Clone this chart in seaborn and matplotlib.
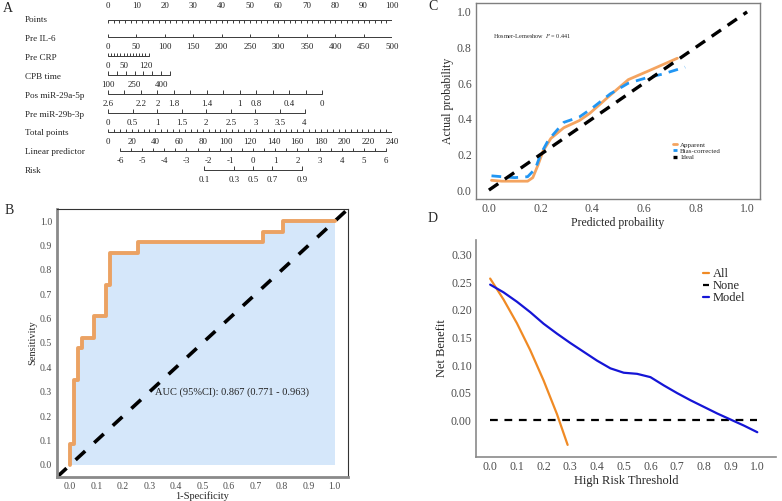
import numpy as np
import pandas as pd
import matplotlib
matplotlib.use('Agg')
import matplotlib.pyplot as plt
import seaborn as sns

sns.set_style('white')
plt.rcParams['font.family'] = ['Liberation Serif', 'DejaVu Serif']
plt.rcParams['mathtext.fontset'] = 'stix'

W, H = 782, 501

# ---------------- A: nomogram ----------------
nomo_rows = ['Points', 'Pre IL-6', 'Pre CRP', 'CPB time', 'Pos miR-29a-5p',
             'Pre miR-29b-3p', 'Total points', 'Linear predictor', 'Risk']
points_ticks = [0, 2, 4, 6, 8, 10, 12, 14, 16, 18, 20, 22, 24, 26, 28, 30, 32, 34, 36, 38, 40,
                42, 44, 46, 48, 50, 52, 54, 56, 58, 60, 62, 64, 66, 68, 70, 72, 74, 76, 78, 80,
                82, 84, 86, 88, 90, 92, 94, 96, 98, 100]
points_labels = [0, 10, 20, 30, 40, 50, 60, 70, 80, 90, 100]
il6_ticks = [0, 50, 100, 150, 200, 250, 300, 350, 400, 450, 500]
crp_ticks = [0, 10, 20, 30, 40, 50, 60, 70, 80, 90, 100, 110, 120, 130]
crp_labels = [0, 50, 120]
cpb_ticks = [100, 150, 200, 250, 300, 350, 400, 450]
cpb_labels = [100, 250, 400]
mir29a_ticks = [2.6, 2.4, 2.2, 2.0, 1.8, 1.6, 1.4, 1.2, 1.0, 0.8, 0.6, 0.4, 0.2, 0.0]
mir29a_labels = [2.6, 2.2, 2, 1.8, 1.4, 1, 0.8, 0.4, 0]
mir29b_ticks = [0, 0.5, 1, 1.5, 2, 2.5, 3, 3.5, 4]
total_ticks = [0, 5, 10, 15, 20, 25, 30, 35, 40, 45, 50, 55, 60, 65, 70, 75, 80, 85, 90, 95,
               100, 105, 110, 115, 120, 125, 130, 135, 140, 145, 150, 155, 160, 165, 170, 175,
               180, 185, 190, 195, 200, 205, 210, 215, 220, 225, 230, 235, 240]
total_labels = [0, 20, 40, 60, 80, 100, 120, 140, 160, 180, 200, 220, 240]
lp_ticks = [-6, -5.5, -5, -4.5, -4, -3.5, -3, -2.5, -2, -1.5, -1, -0.5, 0, 0.5, 1, 1.5,
            2, 2.5, 3, 3.5, 4, 4.5, 5, 5.5, 6]
lp_labels = [-6, -5, -4, -3, -2, -1, 0, 1, 2, 3, 4, 5, 6]
risk_ticks = [0.1, 0.3, 0.5, 0.7, 0.9]

# nomogram point scales
to_points = {
    'Points': lambda v: v,
    'Pre IL-6': lambda v: v * 0.2,
    'Pre CRP': lambda v: v * 0.11,
    'CPB time': lambda v: (v - 100) * 0.0624,
    'Pos miR-29a-5p': lambda v: (2.6 - v) * 29.0,
    'Pre miR-29b-3p': lambda v: v * 17.3,
    'Total points': lambda v: v / 2.4,
    'Linear predictor': lambda v: 4.2 + (v + 6) * 7.81,
    'Risk': lambda v: 4.2 + (np.log(v / (1 - v)) + 6) * 7.81,
}

# ---------------- B: ROC ----------------
roc_fpr = [0.0, 0.015, 0.030, 0.045, 0.091, 0.136, 0.152, 0.258, 0.727, 0.803, 1.0]
roc_tpr = [0.087, 0.348, 0.478, 0.522, 0.609, 0.739, 0.870, 0.913, 0.957, 1.0, 1.0]

# ---------------- C: calibration ----------------
app_x = [0.01, 0.05, 0.10, 0.15, 0.17, 0.19, 0.21, 0.24, 0.29, 0.35, 0.39, 0.46, 0.54, 0.62, 0.73]
app_y = [0.055, 0.05, 0.05, 0.05, 0.07, 0.14, 0.22, 0.29, 0.35, 0.39, 0.43, 0.52, 0.62, 0.67, 0.74]
bias_x = [0.01, 0.05, 0.10, 0.15, 0.18, 0.20, 0.23, 0.29, 0.35, 0.40, 0.47, 0.54, 0.61, 0.67, 0.76]
bias_y = [0.08, 0.075, 0.07, 0.075, 0.12, 0.20, 0.28, 0.38, 0.41, 0.46, 0.54, 0.60, 0.63, 0.65, 0.69]

# ---------------- D: decision curve ----------------
all_x = [0.0, 0.05, 0.10, 0.15, 0.20, 0.25, 0.27, 0.29]
all_y = [0.257, 0.219, 0.176, 0.127, 0.072, 0.011, -0.017, -0.045]
model_x = [0.0, 0.05, 0.1, 0.15, 0.2, 0.25, 0.3, 0.35, 0.4, 0.45, 0.5, 0.55, 0.6, 0.65,
           0.7, 0.75, 0.8, 0.85, 0.9, 0.95, 1.0]
model_y = [0.246, 0.232, 0.215, 0.196, 0.175, 0.157, 0.140, 0.124, 0.108, 0.094, 0.086,
           0.084, 0.078, 0.063, 0.049, 0.036, 0.024, 0.012, 0.001, -0.010, -0.022]
none_x = [0.0, 1.0]
none_y = [0.0, 0.0]


def box(x0, y0, x1, y1):
    return [x0 / W, 1 - y1 / H, (x1 - x0) / W, (y1 - y0) / H]


fig = plt.figure(figsize=(W / 100, H / 100), dpi=100)

# ===== A =====
axA = fig.add_axes(box(108, 1, 392, 190))
axA.set_xlim(0, 100)
axA.set_ylim(8.99, -1.005)
axA.axis('off')
lc = '#3a3a3a'
tc = '#222222'


def nomo_row(i, ticks, labels, fmt='{:g}', tlen=0.2):
    f = to_points[nomo_rows[i]]
    xs = [f(t) for t in ticks]
    y = i - 0.08
    axA.plot([min(xs), max(xs)], [y, y], color=lc, lw=0.7)
    axA.vlines(xs, y - tlen, y, color=lc, lw=0.7)
    for lab in labels:
        axA.text(f(lab), i + 0.45, fmt.format(lab), ha='center', va='center', fontsize=6.4, color=tc)


# points axis: labels above, ticks below the line
xs = [to_points['Points'](t) for t in points_ticks]
axA.plot([0, 100], [0.0, 0.0], color=lc, lw=0.7)
axA.vlines(xs, 0.0, 0.15, color=lc, lw=0.7)
for lab in points_labels:
    axA.text(lab, -0.72, f'{lab}', ha='center', va='center', fontsize=6.4, color=tc)

nomo_row(1, il6_ticks, il6_ticks)
nomo_row(2, crp_ticks, crp_labels)
nomo_row(3, cpb_ticks, cpb_labels)
nomo_row(4, mir29a_ticks, mir29a_labels)
nomo_row(5, mir29b_ticks, mir29b_ticks)
nomo_row(6, total_ticks, total_labels, tlen=0.15)
nomo_row(7, lp_ticks, lp_labels, tlen=0.15)
nomo_row(8, risk_ticks, risk_ticks)

for i, name in enumerate(nomo_rows):
    axA.text(-29.3, i, name, ha='left', va='center', fontsize=6.6, color=tc)

# ===== B =====
axB = fig.add_axes(box(57, 209, 348, 477))
roc_x = [0.0] + roc_fpr
roc_y = [0.0] + roc_tpr
axB.fill_between(roc_x, roc_y, 0, step='post', color='#D5E7FA', lw=0)
sns.lineplot(x=[-0.05, 1.05], y=[-0.05, 1.05], ax=axB, color='black', lw=2.6,
             linestyle=(0, (3.6, 3.4)), estimator=None, sort=False)
sns.lineplot(x=roc_x, y=roc_y, ax=axB, color='#EBA263', lw=2.8, drawstyle='steps-post',
             estimator=None, sort=False)
axB.text(0.32, 0.30, 'AUC (95%CI): 0.867 (0.771 - 0.963)', fontsize=7.5, color=tc,
         ha='left', va='center')
axB.set_xlim(-0.05, 1.05)
axB.set_ylim(-0.05, 1.05)
ticks01 = [0, 0.1, 0.2, 0.3, 0.4, 0.5, 0.6, 0.7, 0.8, 0.9, 1.0]
axB.set_xticks(ticks01)
axB.set_yticks(ticks01)
axB.set_xticklabels([f'{t:.1f}' for t in ticks01])
axB.set_yticklabels([f'{t:.1f}' for t in ticks01])
axB.tick_params(labelsize=7, colors='#4D4D4D', length=2, width=0.6, pad=1.5)
for s in ['left', 'bottom']:
    axB.spines[s].set_color('#8a8a8a')
    axB.spines[s].set_linewidth(2)
for s in ['top', 'right']:
    axB.spines[s].set_color('#333333')
    axB.spines[s].set_linewidth(0.8)
axB.set_xlabel('1-Specificity', fontsize=7.5, labelpad=0)
axB.set_ylabel('Sensitivity', fontsize=7.5, labelpad=2)

# ===== C =====
axC = fig.add_axes(box(476, 3, 760, 199))
sns.lineplot(x=app_x, y=app_y, ax=axC, color='#F4A460', lw=2.0, estimator=None, sort=False,
             label='Apparent')
sns.lineplot(x=bias_x, y=bias_y, ax=axC, color='#2196F3', lw=2.0, linestyle=(0, (3.5, 2.6)),
             estimator=None, sort=False, label='Bias-corrected')
sns.lineplot(x=[0, 1], y=[0, 1], ax=axC, color='black', lw=2.4, linestyle=(0, (3.4, 2.4)),
             estimator=None, sort=False, label='Ideal')
axC.set_xlim(-0.05, 1.05)
axC.set_ylim(-0.05, 1.05)
ticks02 = [0, 0.2, 0.4, 0.6, 0.8, 1.0]
axC.set_xticks(ticks02)
axC.set_yticks(ticks02)
axC.set_xticklabels([f'{t:.1f}' for t in ticks02])
axC.set_yticklabels([f'{t:.1f}' for t in ticks02])
axC.tick_params(labelsize=8.5, colors='#4D4D4D', length=2, width=0.6, pad=1)
for s in axC.spines.values():
    s.set_color('#7f7f7f')
    s.set_linewidth(1)
axC.set_xlabel('Predicted probaility', fontsize=8.5, labelpad=1)
axC.set_ylabel('Actual probability', fontsize=8.5, labelpad=2)
axC.text(0.016, 0.865, 'Hosmer-Lemeshow  $P$ = 0.441', fontsize=4.5, ha='left', va='center')
axC.legend(loc='upper left', bbox_to_anchor=(0.68, 0.31), frameon=False, fontsize=5,
           handlelength=0.7, handletextpad=0.4, labelspacing=0.05, borderpad=0)

# ===== D =====
axD = fig.add_axes(box(476, 240, 776, 457))
sns.lineplot(x=all_x, y=all_y, ax=axD, color='#F08A24', lw=1.6, estimator=None, sort=False,
             label='All')
sns.lineplot(x=none_x, y=none_y, ax=axD, color='black', lw=1.6, linestyle=(0, (3.5, 3)),
             estimator=None, sort=False, label='None')
sns.lineplot(x=model_x, y=model_y, ax=axD, color='#1515D6', lw=1.6, estimator=None, sort=False,
             label='Model')
axD.set_xlim(-0.053, 1.07)
axD.set_ylim(-0.067, 0.327)
axD.set_xticks(ticks01)
axD.set_xticklabels([f'{t:.1f}' for t in ticks01])
ticksD = [0.0, 0.05, 0.10, 0.15, 0.20, 0.25, 0.30]
axD.set_yticks(ticksD)
axD.set_yticklabels([f'{t:.2f}' for t in ticksD])
axD.tick_params(labelsize=8.5, colors='#4D4D4D', length=2, width=0.6, pad=1)
for s in ['left', 'bottom']:
    axD.spines[s].set_color('#8a8a8a')
    axD.spines[s].set_linewidth(1.2)
for s in ['top', 'right']:
    axD.spines[s].set_visible(False)
axD.set_xlabel('High Risk Threshold', fontsize=9, labelpad=1)
axD.set_ylabel('Net Benefit', fontsize=9, labelpad=2)
axD.legend(loc='upper left', bbox_to_anchor=(0.735, 0.9), frameon=False, fontsize=9,
           handlelength=0.5, handletextpad=0.3, labelspacing=0.0, borderpad=0)

# panel letters
for lab, px, py in [('A', 8, 8), ('B', 9, 211), ('C', 433, 6), ('D', 433, 218)]:
    fig.text(px / W, 1 - py / H, lab, fontsize=10, ha='center', va='center')

fig.savefig('out.png', dpi=100)
